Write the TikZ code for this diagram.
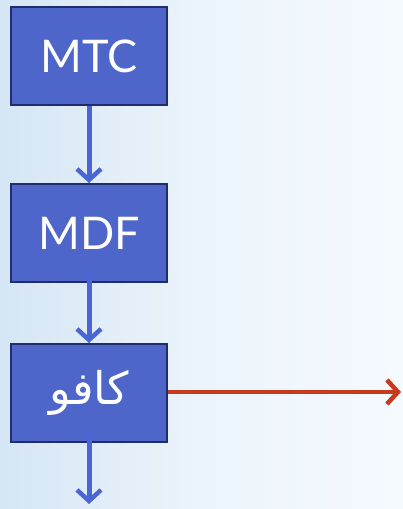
\documentclass[tikz,border=0pt]{standalone}
\usepackage{fontspec}
\setmainfont{Lato}
\newfontfamily\arabicfont[Script=Arabic]{DejaVu Sans}
\TeXXeTstate=1
\usetikzlibrary{arrows.meta}
\definecolor{boxfill}{HTML}{4E66C9}
\definecolor{boxline}{HTML}{1F2D6E}
\definecolor{arrblue}{HTML}{4A66D4}
\definecolor{arrred}{HTML}{C83A1E}
\definecolor{bgleft}{HTML}{D6E6F5}
\definecolor{bgright}{HTML}{F5FAFE}
\tikzset{
  procbox/.style={draw=boxline, line width=2pt, fill=boxfill, minimum width=156pt, minimum height=98pt, inner sep=0pt, text=white, font=\fontsize{45}{50}\selectfont},
  bluearrow/.style={draw=arrblue, line width=5pt, -{Straight Barb[length=11pt,width=24pt,line width=4.5pt]}},
  redarrow/.style={draw=arrred, line width=4.5pt, -{Straight Barb[length=11pt,width=24pt,line width=4.5pt]}},
}
\begin{document}
\begin{tikzpicture}[x=1pt,y=1pt]
  \shade[left color=bgleft, right color=bgright, middle color=bgright!70!bgleft] (0,0) rectangle (403,509);
  \useasboundingbox (0,0) rectangle (403,509);
  \node[procbox] (mtc) at (89,453) {MTC};
  \node[procbox] (mdf) at (89,276) {MDF};
  \node[procbox] (kafo) at (89,116) {\arabicfont\beginR كافو\endR};
  \coordinate (redend) at (401,117);
  \coordinate (downend) at (89,5);
  \draw[bluearrow] (mtc.south) -- (mdf.north);
  \draw[bluearrow] ([yshift=17pt]mdf.south) -- (kafo.north);
  \draw[bluearrow] ([yshift=17pt]kafo.south) -- (downend);
  \draw[redarrow] (kafo.east |- redend) -- (redend);
\end{tikzpicture}
\end{document}
